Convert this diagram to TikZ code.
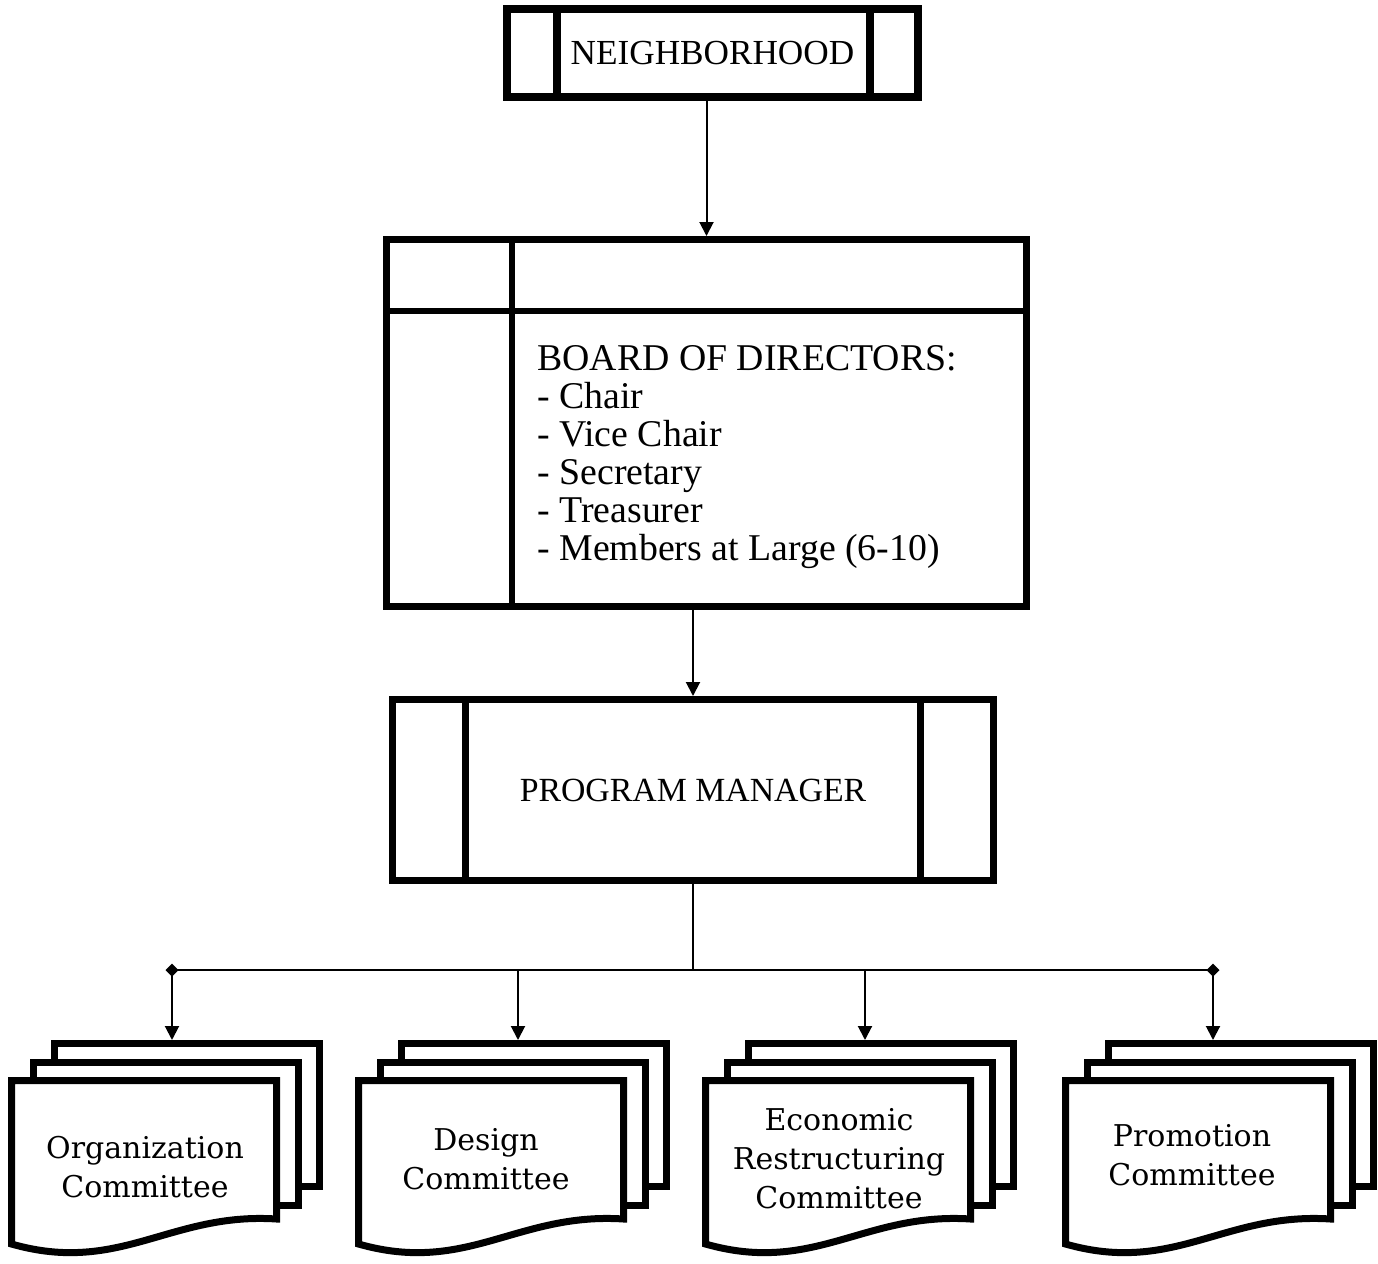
\documentclass[tikz,border=0pt]{standalone}
\usepackage{fontspec}
\setmainfont{Liberation Serif}
\newfontfamily\comfont{DejaVu Serif}
\usetikzlibrary{positioning, arrows.meta}
\tikzstyle{procbox}=[draw, line width=3.5pt, inner sep=0pt]
\tikzstyle{sheet}=[draw, fill=white, line width=3.5pt]
\tikzstyle{conn}=[line width=1pt]

\begin{document}
\begin{tikzpicture}[x=0.5pt, y=-0.5pt, node distance=185pt, > = {Triangle[length=7pt,width=7pt]}]
\useasboundingbox (0,0) rectangle (1378,1264);
\node [procbox, line width=4pt, minimum width=205.5pt, minimum height=44pt, font=\fontsize{17.6}{20}\selectfont] (nb) at (712.5,53) {NEIGHBORHOOD};
\node [procbox, below of=nb, xshift=-3pt, minimum width=320pt, minimum height=183.5pt] (board) {};
\node [procbox, below of=board, node distance=183.5pt, xshift=-6.75pt, minimum width=300.5pt, minimum height=90.5pt, font=\fontsize{16.9}{20}\selectfont] (pm) {PROGRAM MANAGER\hspace{5pt}};
\node [right, inner sep=0pt, align=left, font=\fontsize{18.9}{19}\selectfont] (dirs) at ([xshift=77pt, yshift=-17.25pt]board.west) {BOARD OF DIRECTORS:\\- Chair\\- Vice Chair\\- Secretary\\- Treasurer\\- Members at Large (6-10)};
% side bars
\draw [line width=4pt] ([xshift=26.75pt]nb.north west) -- ([xshift=26.75pt]nb.south west);
\draw [line width=4pt] ([xshift=-26pt]nb.north east) -- ([xshift=-26pt]nb.south east);
\draw [line width=3pt] ([yshift=-37.5pt]board.north west) -- ([yshift=-37.5pt]board.north east);
\draw [line width=3pt] ([xshift=64.5pt]board.north west) -- ([xshift=64.5pt]board.south west);
\draw [line width=3.5pt] ([xshift=38pt]pm.north west) -- ([xshift=38pt]pm.south west);
\draw [line width=3.5pt] ([xshift=-38.5pt]pm.north east) -- ([xshift=-38.5pt]pm.south east);
\draw [conn, ->] (board.north |- nb.south) -- (board.north);
\draw [conn, ->] (pm.north |- board.south) -- (pm.north);
% committees
\foreach \L/\ax/\tx/\ty/\nm/\txt in {8/172/145/1167/org/Organization\\Committee, 355/518/486/1159/des/Design\\Committee, 702/865/839/1159/eco/Economic\\Restructuring\\Committee, 1062/1213/1192/1155/pro/Promotion\\Committee}{
  \draw [sheet] (\L+46.5,1043.5) rectangle (\L+311.5,1186.5);
  \draw [sheet] (\L+25,1062) rectangle (\L+290,1205.5);
  \draw [sheet] (\L+3.5,1244) -- (\L+3.5,1080.5) -- (\L+268.5,1080.5) -- (\L+268.5,1219) .. controls (\L+162,1212) and (\L+112,1275) .. (\L+3.5,1244) -- cycle;
  \node [align=center, font=\comfont\fontsize{15}{19.5}\selectfont] (\nm) at (\tx,\ty) {\txt};
  \coordinate (\nm-top) at (\ax,1040);
}
\coordinate (jn) at (692,970);
\draw [conn] (pm.south) -- (pm.south |- jn);
\draw [conn] (org-top |- jn) -- (pro-top |- jn);
\foreach \nm in {org,des,eco,pro}
  \draw [conn, ->] (\nm-top |- jn) -- (\nm-top);
\foreach \nm in {org,pro}
  \fill (\nm-top |- jn) +(0,-6.5) -- +(6.5,0) -- +(0,6.5) -- +(-6.5,0) -- cycle;
\end{tikzpicture}
\end{document}
